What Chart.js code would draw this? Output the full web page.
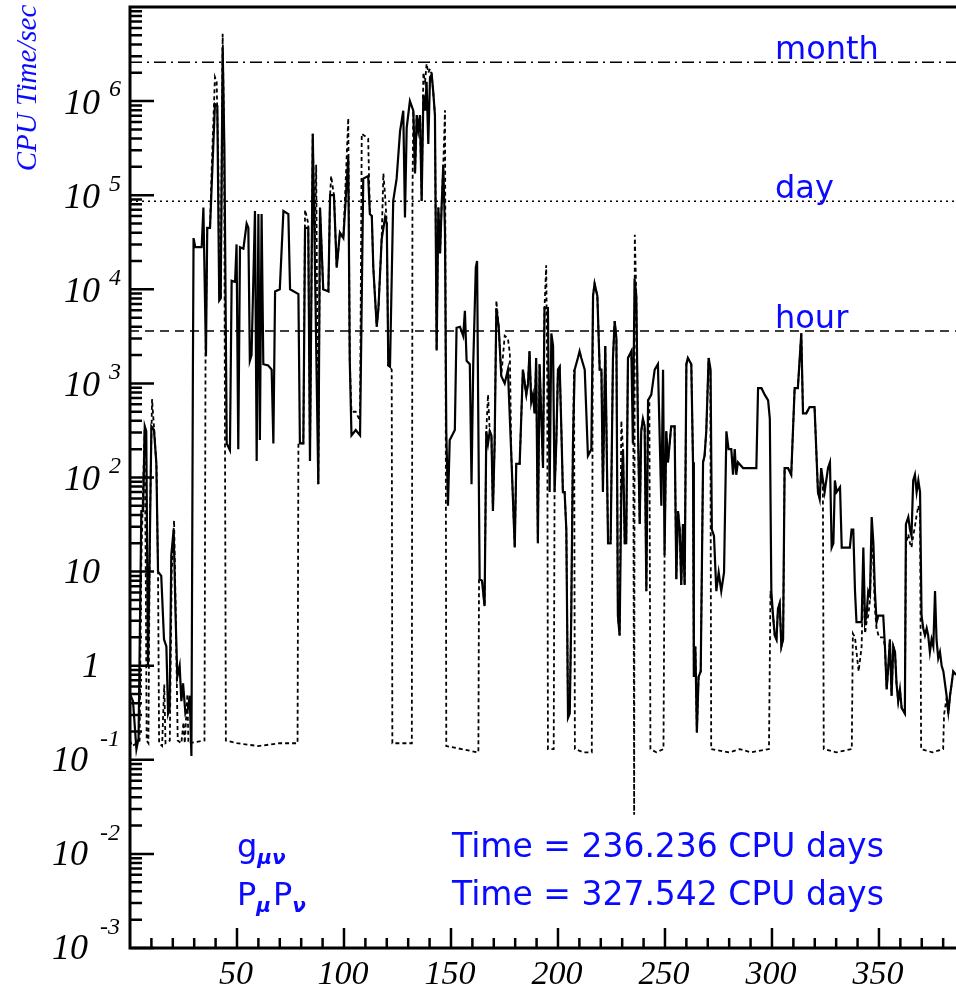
<!DOCTYPE html>
<html><head><meta charset="utf-8">
<script src="https://cdn.jsdelivr.net/npm/chart.js@4.4.1/dist/chart.umd.min.js"></script>
<style>html,body{margin:0;padding:0;background:#fff;overflow:hidden}canvas{display:block}</style>
</head><body>
<canvas id="c" width="956" height="992"></canvas>
<script>
// ---- g_{mu nu} series (solid) : x and CPU seconds ----
const gX = [
0,1.4,3.0,4.0,5.3,6.1,6.9,7.6,8.4,9.2,
10,11.2,12.3,13.1,14.6,15.9,17,17.8,18.5,19.3,
20.4,21.3,22.1,23.2,24,24.8,25.9,27.1,27.9,28.7,
29.4,29.7,30.5,33.5,34.3,35.5,36.1,37.4,38.2,39.7,
40.8,41.7,42.4,43.3,44.1,45.2,46.7,47.5,49.1,49.8,
50.6,51.4,53,54.5,55.3,56,56.8,58.4,59.2,60,
60.7,61.5,62.3,64.6,66.2,67,67.8,70,71.7,74,
74.8,78.7,79.4,81,81.8,83.3,84.1,85.4,86.4,88,
88.8,90.3,92.7,93.5,95.3,96.6,98.1,99.7,102,102.7,
103.5,105.5,107.5,109,111.3,112.1,113,113.7,115.3,116.1,
117.6,119.2,120,120.7,121.5,123,124.6,126.2,127.7,128.5,
129.3,130.8,132.4,133.2,134,134.7,135.5,136.3,137.1,137.9,
138.6,139.4,140.2,141,141.7,142.5,143.3,144.1,144.9,145.6,
146.4,147.2,147.8,148.6,149.4,150.5,151.8,152.6,154.2,155.7,
156.5,157.3,158.8,159.6,160.4,161.6,162.2,162.7,163.4,164.5,
165.7,166.5,167.3,168.1,168.9,169.6,170.4,171.2,172.3,173.5,
175.1,176.6,178.2,179.8,180.5,182.1,183.6,185.2,186,186.7,
187.5,188.3,189.1,189.8,190.6,191.4,193,193.7,194.5,195.3,
196.1,196.9,197.7,198.4,199.2,200,200.8,201.6,202.3,203.1,
203.9,204.7,205.5,206.2,207,207.8,209.3,210.1,210.9,212.5,
214,215.6,216.4,217.1,218.4,219.5,220.3,221,222.1,223.4,
224.6,225.7,226.5,227.3,228,228.8,229.6,230.4,231.2,231.9,
232.7,234.3,235,235.8,236.6,237.4,238.2,238.9,239.7,240.5,
241.3,242.1,243.6,245.2,246.7,248.3,249.1,249.8,250.6,251.4,
252.9,254.5,255.3,256.1,256.9,257.6,258.4,259.2,260,260.7,
262.3,263.1,263.5,264.2,264.9,265.7,266.7,267.8,268.5,269.3,
270.4,271.3,271.9,272.9,274,275.1,276.3,277.6,278.7,279.7,
281,281.8,282.6,283.3,284.1,286.5,292.7,293.5,295.1,296.6,
298.2,299,299.7,300.5,301.3,302.1,302.8,303.6,304.4,305.2,
305.9,307.5,309,310.6,312.1,313.7,314.5,316,317.6,319.9,
321.5,322.3,323,324.6,326.2,327.1,327.9,328.7,329.4,330.2,
331.8,332.6,334.9,336.4,337.2,338,338.8,339.5,341.9,342.7,
343.5,344.2,345,345.8,346.6,347.4,348.1,348.9,349.7,352,
352.8,353.6,354.4,355.1,355.9,356.7,357.5,358.2,359,359.8,
360.6,362.1,362.6,363.7,364.5,365.2,366,366.8,367.6,368.4,
369.2,369.9,370.7,371.5,372.3,373,373.8,374.6,375.4,376.2,
376.9,377.7,378.5,379.3,380.1,381.6,382.4,383.2,384,384.7,
386];
const gY = [
0.5,0.42,0.13,0.17,44,44,350,310,1.0,16,
350,320,145,10,9,1.9,1.6,0.31,0.35,15,
28,3.4,0.76,1.0,0.42,0.65,0.31,0.35,0.48,0.11,
1500,35000,28000,28000,74000,1950,45000,45000,130000,930000,
890000,7600,8000,3700000,320000,230,195,12300,12000,30000,
200,28000,27000,50000,45000,1740,2000,68000,150,63000,
250,63000,1600,1550,1400,230,9500,10000,68000,63000,
10000,8900,230,230,45000,45000,150,450000,20000,85,
74000,10000,9500,100000,100000,17000,40000,35000,250000,1740,
280,320,280,150000,160000,63000,60000,17000,4000,6300,
34000,58000,50000,1550,1500,87000,150000,480000,790000,58000,
520000,1000000,790000,170000,710000,500000,710000,87000,1170000,790000,
1600000,350000,1800000,1900000,1260000,710000,2240,74000,24000,74000,
210000,40000,310,50,250,280,320,3900,4000,3200,
5900,1740,1600,85,1600,17000,20000,630,8.3,8,
4.3,310,230,310,280,44,230,6300,4000,1200,
1000,1400,170,18,140,140,1400,760,1000,2200,
630,760,480,1860,20,1600,126,6300,6300,6300,
70,3400,2500,70,230,1400,1500,310,70,70,
28,0.28,0.31,3.4,230,1400,1860,2200,1860,1400,
170,200,8500,11500,8500,1400,1400,70,2500,20,
20,1860,4600,3000,3.4,2.1,70,200,20,20,
1860,2200,230,13000,8500,310,32,310,420,350,
6.2,660,760,1400,1600,50,1400,15,310,145,
350,350,8.3,44,28,7.2,32,7.2,1600,1860,
1600,145,0.76,1.6,0.195,0.76,0.87,145,170,310,
1860,1400,28,24,6.2,9.8,6.2,9.8,310,200,
200,107,200,107,145,126,126,890,890,760,
660,420,6.2,3.4,2.1,1.9,4.0,4.6,1.6,1.9,
126,126,107,890,890,3400,480,480,560,560,
70,59,126,70,126,145,18,20,93,70,
79,18,18,18,28,28,6.2,2.9,2.9,18,
2.9,3.4,6.2,5.6,38,20,6.2,2.9,3.4,3.4,
1.6,0.56,1.0,1.9,0.48,1.6,1.4,0.65,0.42,0.56,
0.355,0.31,32,38,28,24,93,107,70,93,
70,3.4,2.5,2.1,2.5,2.1,1.4,1.9,1.6,6.2,
1.9,1.2,1.4,1.0,0.87,0.48,0.31,0.48,0.65,0.87,
0.8];

// ---- P_mu P_nu series (dashed) ----
const pX = [
0,1.0,3.0,4.5,5.2,5.8,6.8,7.3,7.8,8.6,
9.3,10.3,11.3,12.4,13.1,13.6,15,16,16.6,18.6,
19.5,20.6,21.5,22.3,24,25,25.6,26.8,27.3,34.8,
35.3,36.1,37.4,38.2,39.7,40.5,41.3,41.7,42.4,43.3,
44,44.4,44.8,50,60,70,78.3,78.7,79.4,81,
81.8,83.3,84.1,85.4,86.4,87,88,88.8,90.3,92.7,
93.5,94,95.3,96.6,98.1,99.7,102,102.7,103.5,105.5,
107.5,108.3,111.3,112.1,113,113.7,115.3,116.1,117.6,118.4,
119.2,120,120.7,121.5,122.3,122.6,128,131.7,132,132.4,
133.2,134,134.7,135.5,136.3,137.1,137.9,138.6,139.4,140.2,
141,141.7,142.5,143.3,144.1,144.9,145.6,146.4,147.2,147.5,
147.8,155,162.3,162.8,163.1,164.5,165.7,166.5,167.3,168.1,
168.9,169.6,170.4,171.2,172.3,173.5,175.1,176.6,177.5,178.2,
179.8,180.5,182.1,183.6,185.2,186,186.7,187.5,188.3,189.1,
189.8,190.6,191.4,193,193.7,194.5,195,195.3,198,198.4,
199.2,200,200.8,201.6,202.3,203.1,203.9,204.7,205.5,206.2,
207,207.5,207.9,212,215.8,216.3,217.1,218.4,219.5,220.3,
221,222.1,223.4,224.6,225.7,226.5,227.3,228,228.8,229.6,
230.4,231.2,231.9,232.7,234.3,235.2,235.6,235.9,236.6,237.4,
238.2,238.9,239.7,240.5,241.3,242.1,242.7,243.2,246,249.3,
249.8,250.6,251.4,252.9,254.5,255.3,256.1,256.9,257.6,258.4,
259.2,260,260.7,262.3,263.1,263.5,264.2,264.9,265.7,266.7,
267.8,268.5,269.3,270.4,271.2,271.6,280,285,290,298.6,
299.3,300.5,301.3,302.1,302.8,303.6,304.4,305.2,305.9,307.5,
309,310.6,312.1,313.7,314.5,316,317.6,319.9,321.5,322.3,
323,323.8,324.2,330,337.3,337.8,338.8,339.5,340.5,341.9,
342.7,343.5,344.2,345,345.8,346.6,347.4,348.1,348.9,350,
352,352.8,353.6,354.4,355.1,355.9,356.7,357.5,358.2,359,
359.8,360.6,362.1,362.6,363.7,364.5,365.2,366,366.8,367.6,
368.4,369.2,369.7,375,380,380.4,381.6,382.4,383.2,384,
384.7,386];
const pY = [
0.16,0.14,0.15,0.16,10,40,320,16,0.16,0.15,
32,680,320,126,10,0.15,0.14,0.63,0.15,0.16,
10,35,2.5,0.16,0.15,0.25,0.15,0.5,0.15,0.16,
2000,45000,45000,200000,1800000,1600000,200000,10000,9000,5200000,
400000,230,0.16,0.15,0.14,0.15,0.15,230,230,230,
70000,50000,150,450000,30000,210000,85,74000,10000,9500,
100000,160000,100000,17000,40000,35000,660000,1740,500,500,
400,450000,400000,63000,60000,17000,4000,6300,34000,170000,
100000,50000,1550,1500,1400,0.15,0.15,0.15,100000,790000,
170000,710000,500000,710000,87000,2000000,1600000,2500000,2000000,2200000,
1900000,1260000,710000,2240,74000,24000,74000,210000,800000,3000,
0.14,0.13,0.12,0.12,8.3,8,4.3,310,760,310,
280,44,230,7600,4000,1200,3200,3000,2100,170,
18,140,140,1400,760,1000,2200,630,760,480,
1860,20,1600,126,6300,18000,1000,0.13,0.13,70,
230,1400,1500,310,70,70,28,0.3,0.35,3.4,
230,1400,0.13,0.12,0.12,8500,11500,8500,1400,1400,
70,2500,20,20,1860,4600,3000,3.4,2.1,400,
200,20,20,1860,2200,400,0.026,38000,8500,310,
32,310,420,350,6.2,660,660,0.13,0.12,0.13,
15,310,145,350,350,8.3,44,28,7.2,32,
7.2,1600,1860,1600,145,0.76,1.6,0.195,0.76,0.87,
145,170,310,1860,1400,0.13,0.12,0.13,0.12,0.13,
6.2,3.4,2.1,1.9,4.0,4.6,1.6,1.9,126,126,
107,890,890,3400,480,480,560,560,70,59,
126,80,0.13,0.12,0.13,2.2,2.0,1.4,0.87,1.6,
10,2.2,2.9,3.4,5,25,12,4,2.5,2.0,
2.0,1.6,0.56,1.0,1.9,0.48,1.6,1.4,0.65,0.42,
0.56,0.355,0.31,20,25,20,18,24,30,40,
50,40,0.13,0.12,0.13,0.3,0.45,0.31,0.48,0.65,
0.87,0.8];

// reference levels (seconds)
const refNames = ['month', 'day', 'hour'];
const refValues = [2592000, 86400, 3600];
const xRange = [0, 386];
const yRange = [1e-3, 1e7];
const xTickLabels = [50, 100, 150, 200, 250, 300, 350];
const yTickValues = [1e-3, 1e-2, 1e-1, 1, 10, 100, 1e3, 1e4, 1e5, 1e6];
const yTickBase = ['10', '10', '10', '1', '10', '10', '10', '10', '10', '10'];
const yTickExp  = ['-3', '-2', '-1', '', '', '2', '3', '4', '5', '6'];
const totalTexts = ['Time = 236.236 CPU days', 'Time = 327.542 CPU days'];

const refDash = [[12, 5, 2, 5], [2, 4], [9, 6]];
const BLUE = '#0a0aff';

const datasets = [];
datasets.push({
  label: 'g', data: gX.map((x, i) => ({x: x, y: gY[i]})),
  borderColor: '#000', borderWidth: 2.2, showLine: true, pointRadius: 0, tension: 0, order: 1
});
datasets.push({
  label: 'PP', data: pX.map((x, i) => ({x: x, y: pY[i]})),
  borderColor: '#000', borderWidth: 1.8, borderDash: [4, 3], showLine: true, pointRadius: 0, tension: 0, order: 2
});
refValues.forEach((v, i) => {
  datasets.push({
    label: refNames[i], data: [{x: xRange[0], y: v}, {x: xRange[1], y: v}],
    borderColor: '#000', borderWidth: 1.5, borderDash: refDash[i], showLine: true, pointRadius: 0, order: 3
  });
});

const decor = {
  id: 'decor',
  afterDraw(chart) {
    const ctx = chart.ctx, a = chart.chartArea, xs = chart.scales.x, ys = chart.scales.y;
    ctx.save();
    // frame
    ctx.strokeStyle = '#000'; ctx.lineWidth = 3; ctx.lineCap = 'butt';
    ctx.beginPath();
    ctx.moveTo(a.right + 3, a.top); ctx.lineTo(a.left, a.top); ctx.lineTo(a.left, a.bottom); ctx.lineTo(a.right + 3, a.bottom);
    ctx.stroke();
    // y ticks (inside)
    ctx.lineWidth = 2.5;
    ctx.beginPath();
    yTickValues.forEach(v => {
      const py = ys.getPixelForValue(v);
      ctx.moveTo(a.left, py); ctx.lineTo(a.left + 24, py);
      for (let k = 2; k <= 9; k++) {
        const pm = ys.getPixelForValue(v * k);
        ctx.moveTo(a.left, pm); ctx.lineTo(a.left + 12, pm);
      }
    });
    ctx.stroke();
    // x ticks (inside)
    ctx.beginPath();
    for (let t = 10; t < xRange[1]; t += 10) {
      const px = xs.getPixelForValue(t);
      const len = (t % 50 === 0) ? 20 : 10;
      ctx.moveTo(px, a.bottom); ctx.lineTo(px, a.bottom - len);
    }
    ctx.stroke();

    // x labels
    ctx.fillStyle = '#000';
    ctx.font = 'italic 34px "Liberation Serif"';
    ctx.textAlign = 'center'; ctx.textBaseline = 'alphabetic';
    xTickLabels.forEach(t => {
      ctx.fillText(String(t), xs.getPixelForValue(t) - 1, 984);
    });
    // y labels
    yTickValues.forEach((v, i) => {
      const py = ys.getPixelForValue(v);
      const e = yTickExp[i];
      ctx.textBaseline = 'middle';
      ctx.font = 'italic 36px "Liberation Serif"';
      if (e === '') {
        ctx.textAlign = 'right';
        ctx.fillText(yTickBase[i], 100, py + 2);
      } else if (e[0] === '-') {
        ctx.textAlign = 'right';
        ctx.fillText(yTickBase[i], 88, py + 2);
        ctx.font = 'italic 24px "Liberation Serif"';
        ctx.textAlign = 'left';
        ctx.fillText(e, 100, py - 20);
      } else {
        ctx.textAlign = 'right';
        ctx.fillText(yTickBase[i], 100, py + 3);
        ctx.font = 'italic 24px "Liberation Serif"';
        ctx.textAlign = 'left';
        ctx.fillText(e, 109, py - 11);
      }
    });
    // y title
    ctx.save();
    ctx.translate(36, 88); ctx.rotate(-Math.PI / 2);
    ctx.fillStyle = BLUE; ctx.font = 'italic 29px "Liberation Serif"';
    ctx.textAlign = 'center'; ctx.textBaseline = 'alphabetic';
    ctx.fillText('CPU Time/sec', 0, 0);
    ctx.restore();

    // reference labels
    ctx.fillStyle = BLUE; ctx.textAlign = 'left'; ctx.textBaseline = 'alphabetic';
    ctx.font = '32px "DejaVu Sans"';
    refValues.forEach((v, i) => {
      ctx.fillText(refNames[i], 775, ys.getPixelForValue(v) - 3);
    });
    // totals
    ctx.font = '33px "DejaVu Sans"';
    ctx.fillText(totalTexts[0], 452, 857);
    ctx.fillText(totalTexts[1], 452, 905);
    // series labels
    ctx.font = '32px "DejaVu Sans"';
    ctx.fillText('g', 237, 857);
    let w = ctx.measureText('g').width;
    ctx.font = 'italic bold 20px "DejaVu Sans"';
    ctx.fillText('\u03bc\u03bd', 237 + w, 864);
    ctx.font = '32px "DejaVu Sans"';
    ctx.fillText('P', 237, 905);
    let x2 = 237 + ctx.measureText('P').width;
    ctx.font = 'italic bold 20px "DejaVu Sans"';
    ctx.fillText('\u03bc', x2, 912);
    x2 += ctx.measureText('\u03bc').width + 2;
    ctx.font = '32px "DejaVu Sans"';
    ctx.fillText('P', x2, 905);
    x2 += ctx.measureText('P').width;
    ctx.font = 'italic bold 20px "DejaVu Sans"';
    ctx.fillText('\u03bd', x2, 912);
    ctx.restore();
  }
};

new Chart(document.getElementById('c'), {
  type: 'scatter',
  data: { datasets: datasets },
  options: {
    responsive: false, animation: false, devicePixelRatio: 1, events: [],
    layout: { padding: { left: 130, right: 0, top: 7, bottom: 44 } },
    plugins: { legend: { display: false }, tooltip: { enabled: false } },
    scales: {
      x: { type: 'linear', min: xRange[0], max: xRange[1], display: false },
      y: { type: 'logarithmic', min: yRange[0], max: yRange[1], display: false }
    }
  },
  plugins: [decor]
});
</script>
</body></html>
